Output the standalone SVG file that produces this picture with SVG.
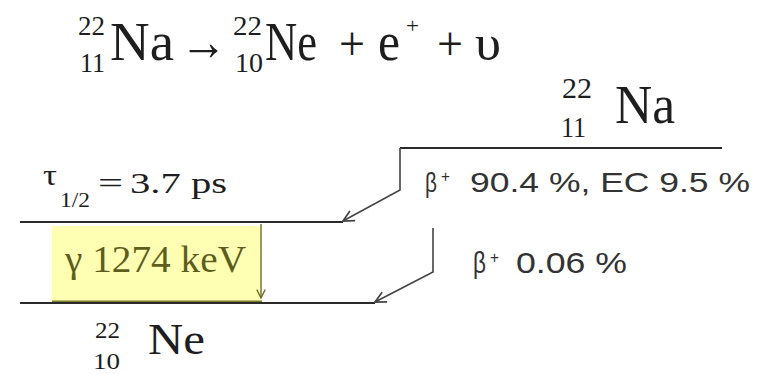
<svg xmlns="http://www.w3.org/2000/svg" width="769" height="374" viewBox="0 0 769 374">
<style>
.level{stroke:#2a2a2a;stroke-width:2.2;fill:none}
.conn{stroke:#444;stroke-width:1.6;fill:none}
</style>
<defs>
<marker id="ah" viewBox="0 0 12 12" refX="11" refY="6" markerWidth="13" markerHeight="13" markerUnits="userSpaceOnUse" orient="auto">
<path d="M1,1 L11,6 L1,11" fill="none" stroke="#444" stroke-width="1.6"/>
</marker>
<marker id="ahg" viewBox="0 0 12 12" refX="11" refY="6" markerWidth="10" markerHeight="10" markerUnits="userSpaceOnUse" orient="auto">
<path d="M1,1 L11,6 L1,11" fill="none" stroke="#6a6a20" stroke-width="1.6"/>
</marker>
</defs>
<rect width="769" height="374" fill="#fff"/>

<g id="equation" font-family="'Liberation Serif','Times New Roman',serif" fill="#1e1e1e">
<text x="78" y="35" font-size="28" textLength="27" lengthAdjust="spacingAndGlyphs">22</text>
<text x="80" y="72" font-size="28" textLength="25" lengthAdjust="spacingAndGlyphs">11</text>
<text x="110" y="60" font-size="54" textLength="64" lengthAdjust="spacingAndGlyphs">Na</text>
<text x="180" y="60" font-size="54" textLength="47" lengthAdjust="spacingAndGlyphs">→</text>
<text x="233" y="35" font-size="28" textLength="29" lengthAdjust="spacingAndGlyphs">22</text>
<text x="235" y="72" font-size="28" textLength="28" lengthAdjust="spacingAndGlyphs">10</text>
<text x="265" y="60" font-size="54" textLength="52" lengthAdjust="spacingAndGlyphs">Ne</text>
<text x="339" y="60" font-size="48" textLength="26" lengthAdjust="spacingAndGlyphs">+</text>
<text x="378" y="60" font-size="54" textLength="22" lengthAdjust="spacingAndGlyphs">e</text>
<text x="406" y="33" font-size="22" textLength="13" lengthAdjust="spacingAndGlyphs">+</text>
<text x="437" y="60" font-size="48" textLength="26" lengthAdjust="spacingAndGlyphs">+</text>
<text x="475" y="60" font-size="50" textLength="26" lengthAdjust="spacingAndGlyphs">υ</text>
</g>

<g id="na22" font-family="'Liberation Serif','Times New Roman',serif" fill="#1e1e1e">
<line class="level" x1="400" y1="148" x2="722" y2="148"/>
<text x="562" y="98" font-size="30" textLength="30" lengthAdjust="spacingAndGlyphs">22</text>
<text x="561" y="137" font-size="30" textLength="25" lengthAdjust="spacingAndGlyphs">11</text>
<text x="615" y="123" font-size="54" textLength="60" lengthAdjust="spacingAndGlyphs">Na</text>
</g>

<g id="ne22-excited" font-family="'Liberation Serif','Times New Roman',serif" fill="#1e1e1e">
<line class="level" x1="20" y1="222" x2="343" y2="222"/>
<text x="43" y="185" font-size="30" textLength="14" lengthAdjust="spacingAndGlyphs">τ</text>
<text x="60" y="207" font-size="20" textLength="30" lengthAdjust="spacingAndGlyphs">1/2</text>
<text x="98" y="193" font-size="30" textLength="25" lengthAdjust="spacingAndGlyphs">=</text>
<text x="130" y="193" font-size="30" textLength="97" lengthAdjust="spacingAndGlyphs">3.7 ps</text>
</g>

<g id="gamma" font-family="'Liberation Serif','Times New Roman',serif">
<rect x="52" y="226" width="209" height="76" fill="#ffffb4"/>
<line x1="52" y1="302" x2="262" y2="302" stroke="#7a7a2a" stroke-width="3"/>
<text x="65" y="272" font-size="37" fill="#5e5e1c" textLength="181" lengthAdjust="spacingAndGlyphs">γ 1274 keV</text>
</g>

<g id="ne22-ground" font-family="'Liberation Serif','Times New Roman',serif" fill="#1e1e1e">
<line class="level" x1="20" y1="303" x2="375" y2="303"/>
<text x="95" y="338" font-size="23" textLength="25" lengthAdjust="spacingAndGlyphs">22</text>
<text x="93" y="369" font-size="23" textLength="27" lengthAdjust="spacingAndGlyphs">10</text>
<text x="148" y="354" font-size="45" textLength="57" lengthAdjust="spacingAndGlyphs">Ne</text>
</g>

<g id="connectors">
<polyline class="conn" points="400,148 400,190 343,221" marker-end="url(#ah)"/>
<polyline class="conn" points="433,228 433,272 375,302" marker-end="url(#ah)"/>
<line x1="261" y1="224" x2="261" y2="298" stroke="#7a7a2a" stroke-width="1.5" marker-end="url(#ahg)"/>
</g>

<g id="labels" font-family="'Liberation Sans',Arial,sans-serif" fill="#333">
<text x="425" y="192" font-size="28" textLength="12" lengthAdjust="spacingAndGlyphs">β</text>
<text x="441" y="182" font-size="16" textLength="9" lengthAdjust="spacingAndGlyphs">+</text>
<text x="470" y="192" font-size="28" textLength="280" lengthAdjust="spacingAndGlyphs">90.4 %, EC 9.5 %</text>
<text x="473" y="273" font-size="30" textLength="13" lengthAdjust="spacingAndGlyphs">β</text>
<text x="490" y="263" font-size="16" textLength="9" lengthAdjust="spacingAndGlyphs">+</text>
<text x="516" y="273" font-size="30" textLength="111" lengthAdjust="spacingAndGlyphs">0.06 %</text>
</g>
</svg>
